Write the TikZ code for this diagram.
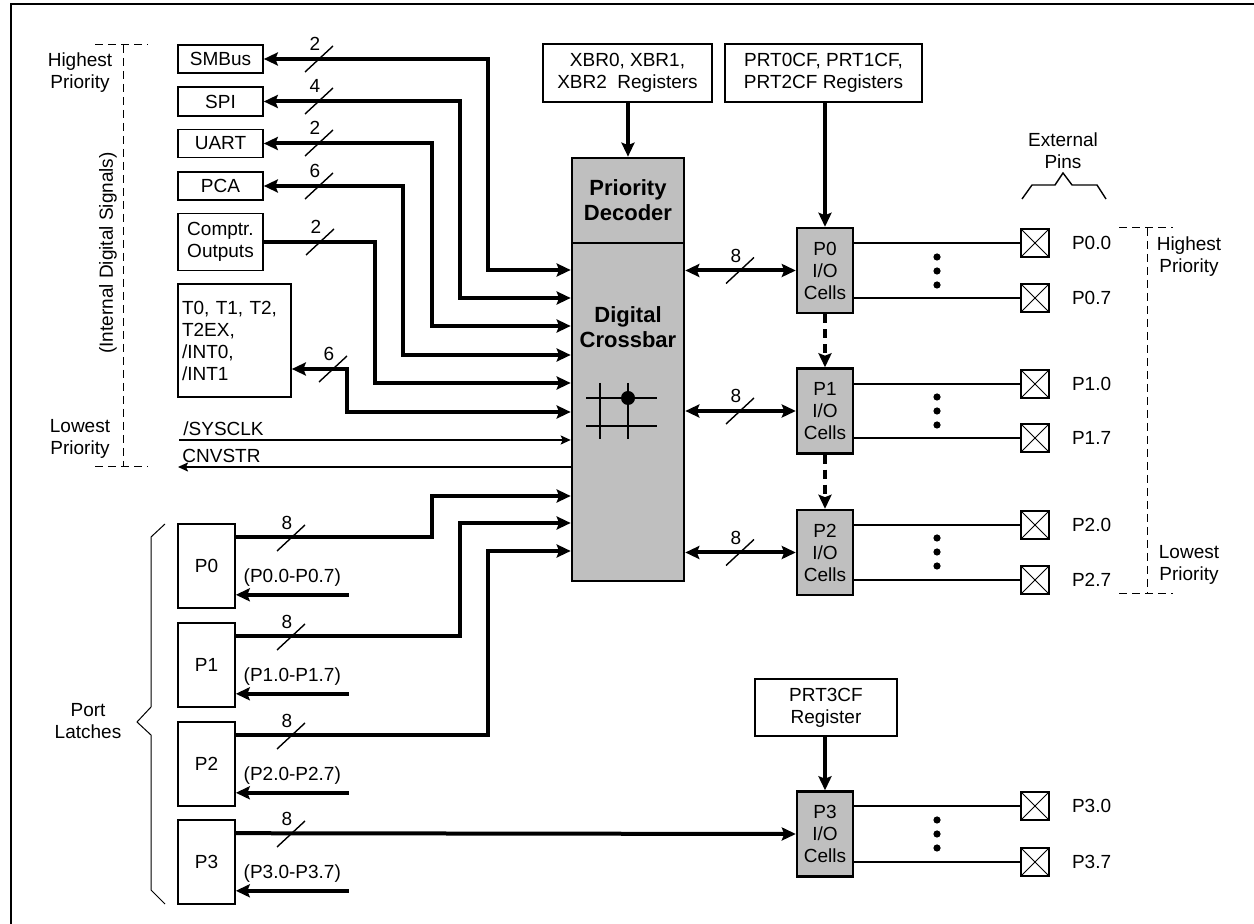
\documentclass[tikz,border=0pt]{standalone}
\usepackage{fontspec}
\setmainfont{Liberation Sans}
\usetikzlibrary{arrows.meta, positioning}
\tikzstyle{reg}        = [rectangle, draw=black, line width=0.8pt, inner sep=0pt, align=center]
\tikzstyle{latch}      = [rectangle, draw=black, line width=0.8pt, inner sep=0pt,
                          minimum width=28.5pt, minimum height=42pt]
\tikzstyle{iocell}     = [rectangle, draw=black, line width=1.2pt, fill=black!25, inner sep=0pt,
                          minimum width=28pt, minimum height=42.5pt, align=center]
\tikzstyle{block}      = [rectangle, draw=black, line width=1.3pt, fill=black!25, inner sep=0pt,
                          minimum width=56pt, align=center, font=\fontsize{11}{12.5}\selectfont\bfseries]
\tikzstyle{padbox}     = [rectangle, draw=black, line width=1pt, minimum size=14pt, inner sep=0pt,
                          path picture={\draw[line width=0.4pt]
                            (path picture bounding box.north west) -- (path picture bounding box.south east)
                            (path picture bounding box.north east) -- (path picture bounding box.south west);}]
\tikzstyle{busline}    = [line width=2pt, -{Stealth[length=7pt, width=6.5pt, inset=1.2pt]}]
\tikzstyle{busboth}    = [line width=2pt, {Stealth[length=7pt, width=6.5pt, inset=1.2pt]}-{Stealth[length=7pt, width=6.5pt, inset=1.2pt]}]
\tikzstyle{chainarrow} = [line width=2pt, dash pattern=on 4.5pt off 3pt, -{Stealth[length=7pt, width=6.5pt, inset=1.2pt]}]
\tikzstyle{sig}        = [line width=0.9pt, -{Stealth[length=5pt, width=4.5pt, inset=1pt]}]
\tikzstyle{pinline}    = [line width=0.9pt]
\tikzstyle{prioline}   = [line width=0.5pt, dash pattern=on 4pt off 2.5pt]
\tikzset{busmark/.pic={
    \draw[line width=0.7pt] (-7pt,-6.5pt) -- (7pt,6.5pt);
    \node[inner sep=0pt] at (-2pt,7.5pt) {#1};
}}

\begin{document}
\begin{tikzpicture}[x=0.5pt, y=-0.5pt, every node/.style={font=\fontsize{9.5}{11}\selectfont}]
    \useasboundingbox (0,0) rectangle (1254,924);
    \draw[line width=1pt] (11,924) -- (11,4) -- (1254,4);

    % internal digital signals
    \node (smbus) [reg, minimum width=42.5pt, minimum height=14pt] at (220.5,59) {SMBus};
    \node (spi) [reg, minimum width=42.5pt, minimum height=14.5pt] at (220.5,101.5) {SPI};
    \node (uart) [reg, minimum width=42.5pt, minimum height=14pt] at (220.5,143.5) {UART};
    \node (pca) [reg, minimum width=42.5pt, minimum height=14pt] at (220.5,186) {PCA};
    \node (cmp) [reg, minimum width=42.5pt, minimum height=28.5pt] at (220.5,242) {Comptr.\\Outputs};
    \node (tmr) [reg, text width=52.5pt, inner xsep=2pt, align=left, minimum height=56.5pt] at (234.5,340.5) {T0, T1, T2,\\T2EX,\\/INT0,\\/INT1};
    \coordinate (sysclk) at (179,440);
    \coordinate (cnvstr) at (178,467);
    \node (sysclklbl) [anchor=south west, inner sep=2pt] at (sysclk) {/SYSCLK};
    \node (cnvstrlbl) [anchor=south west, inner sep=2pt] at (cnvstr) {CNVSTR};

    \node (hi1) [align=center] at (80,73) {Highest\\Priority};
    \node (lo1) [align=center] at (80,439) {Lowest\\Priority};
    \node (intsig) [rotate=90] at (108,253) {(Internal Digital Signals)};
    \draw[prioline] (95,45) -- (148,45) (123,45) -- (123,467) (95,467) -- (148,467);

    % crossbar
    \node (prio) [block, minimum height=42.5pt] at (628,200.5) {Priority\\Decoder};
    \node (xbar) [block, minimum height=169pt] at (628,412) {};
    \node (xbarlbl) [font=\fontsize{11}{12.5}\selectfont\bfseries, align=center] at (628,327) {Digital\\Crossbar};
    \draw[line width=1pt] (586,398) -- (657,398) (586,426) -- (657,426) (600,383) -- (600,439) (628,383) -- (628,439);
    \fill (628,398) circle (3.5pt);

    \node (xbr) [reg, minimum width=84.5pt, minimum height=29pt] at (627.5,73) {XBR0, XBR1,\\XBR2~~Registers};
    \node (prt) [reg, minimum width=98.5pt, minimum height=29pt] at (823.5,73) {PRT0CF, PRT1CF,\\PRT2CF Registers};
    \node (prt3) [reg, minimum width=71pt, minimum height=28.5pt] at (826,707.5) {PRT3CF\\Register};

    % port I/O cells and pins
    \node (io0) [iocell] at (825,270.5) {P0\\I/O\\Cells};
    \node (io1) [iocell] at (825,411) {P1\\I/O\\Cells};
    \node (io2) [iocell] at (825,552.5) {P2\\I/O\\Cells};
    \node (io3) [iocell] at (825,834) {P3\\I/O\\Cells};

    \node (p00) [padbox, label={[label distance=7.5pt]right:P0.0}] at (1035,243) {};
    \node (p07) [padbox, label={[label distance=7.5pt]right:P0.7}] at (1035,298) {};
    \node (p10) [padbox, label={[label distance=7.5pt]right:P1.0}] at (1035,384) {};
    \node (p17) [padbox, label={[label distance=7.5pt]right:P1.7}] at (1035,438) {};
    \node (p20) [padbox, label={[label distance=7.5pt]right:P2.0}] at (1035,525) {};
    \node (p27) [padbox, label={[label distance=7.5pt]right:P2.7}] at (1035,580) {};
    \node (p30) [padbox, label={[label distance=7.5pt]right:P3.0}] at (1035,806) {};
    \node (p37) [padbox, label={[label distance=7.5pt]right:P3.7}] at (1035,862) {};

    \node (extpins) [align=center] at (1063,151) {External\\Pins};
    \draw[line width=0.7pt] (1022,199) -- (1032,185) -- (1055,185) -- (1063,173) -- (1072,185) -- (1097,185) -- (1106,199);
    \node (hi2) [align=center] at (1189,257) {Highest\\Priority};
    \node (lo2) [align=center] at (1189,565) {Lowest\\Priority};
    \draw[prioline] (1119,228) -- (1173,228) (1147,228) -- (1147,594) (1119,594) -- (1173,594);

    % port latches
    \node (lp0) [latch] at (206.5,566) {P0};
    \node (lp1) [latch] at (206.5,665) {P1};
    \node (lp2) [latch] at (206.5,764) {P2};
    \node (lp3) [latch] at (206.5,862) {P3};
    \node (ports) [align=center] at (88,721) {Port\\Latches};
    \draw[line width=0.5pt] (165,524) -- (151,537) -- (151,707) -- (137,722) -- (151,735) -- (151,890) -- (165,904);

    % connectors
    \draw[busboth] (smbus.east) -| (488,270) -- (xbar.west |- 0,270);
    \draw[busboth] (spi.east) -| (460,298) -- (xbar.west |- 0,298);
    \draw[busboth] (uart.east) -| (432,326) -- (xbar.west |- 0,326);
    \draw[busboth] (pca.east) -| (403,355) -- (xbar.west |- 0,355);
    \draw[busline] (cmp.east) -| (375,383) -- (xbar.west |- 0,383);
    \draw[busboth] (tmr.east |- 0,369) -| (347,412) -- (xbar.west |- 0,412);
    \draw[sig] (sysclk) -- (xbar.west |- sysclk);
    \draw[sig] (xbar.west |- cnvstr) -- (cnvstr);

    \draw[busline] ([yshift=-7pt]lp0.north east) -| (432,496) -- (xbar.west |- 0,496);
    \draw[busline] ([yshift=-7pt]lp1.north east) -| (460,523) -- (xbar.west |- 0,523);
    \draw[busline] ([yshift=-7pt]lp2.north east) -| (488,551) -- (xbar.west |- 0,551);
    \draw[busline] ([yshift=-7pt]lp3.north east) -- (io3.west);
    \draw[busline] ([shift={(56.5pt,7pt)}]lp0.south east) -- node (r0lbl) [above] {(P0.0-P0.7)} ([yshift=7pt]lp0.south east);
    \draw[busline] ([shift={(56.5pt,7pt)}]lp1.south east) -- node (r1lbl) [above] {(P1.0-P1.7)} ([yshift=7pt]lp1.south east);
    \draw[busline] ([shift={(56.5pt,7pt)}]lp2.south east) -- node (r2lbl) [above] {(P2.0-P2.7)} ([yshift=7pt]lp2.south east);
    \draw[busline] ([shift={(56.5pt,7pt)}]lp3.south east) -- node (r3lbl) [above] {(P3.0-P3.7)} ([yshift=7pt]lp3.south east);

    \draw[busline] (prio.north |- xbr.south) -- (prio);
    \draw[busline] (io0.north |- prt.south) -- (io0);
    \draw[busline] (io3.north |- prt3.south) -- (io3);
    \draw[chainarrow] (io0) -- (io1);
    \draw[chainarrow] (io1) -- (io2);
    \draw[busboth] (xbar.east |- io0) -- (io0);
    \draw[busboth] (xbar.east |- io1) -- (io1);
    \draw[busboth] (xbar.east |- io2) -- (io2);

    \draw[pinline] (io0.east |- p00) -- (p00);
    \draw[pinline] (io0.east |- p07) -- (p07);
    \draw[pinline] (io1.east |- p10) -- (p10);
    \draw[pinline] (io1.east |- p17) -- (p17);
    \draw[pinline] (io2.east |- p20) -- (p20);
    \draw[pinline] (io2.east |- p27) -- (p27);
    \draw[pinline] (io3.east |- p30) -- (p30);
    \draw[pinline] (io3.east |- p37) -- (p37);
    \fill (937,257) circle (1.8pt) (937,271) circle (1.8pt) (937,285) circle (1.8pt);
    \fill (937,397) circle (1.8pt) (937,411) circle (1.8pt) (937,425) circle (1.8pt);
    \fill (937,538) circle (1.8pt) (937,552) circle (1.8pt) (937,566) circle (1.8pt);
    \fill (937,820) circle (1.8pt) (937,834) circle (1.8pt) (937,848) circle (1.8pt);

    % bus widths
    \pic at (319,59) {busmark=2};
    \pic at (319,101) {busmark=4};
    \pic at (319,143) {busmark=2};
    \pic at (319,186) {busmark=6};
    \pic at (320,242) {busmark=2};
    \pic at (333,369) {busmark=6};
    \pic at (740,270.5) {busmark=8};
    \pic at (740,411) {busmark=8};
    \pic at (740,552.5) {busmark=8};
    \pic at (291,538) {busmark=8};
    \pic at (291,637) {busmark=8};
    \pic at (291,736) {busmark=8};
    \pic at (291,834) {busmark=8};
\end{tikzpicture}
\end{document}
